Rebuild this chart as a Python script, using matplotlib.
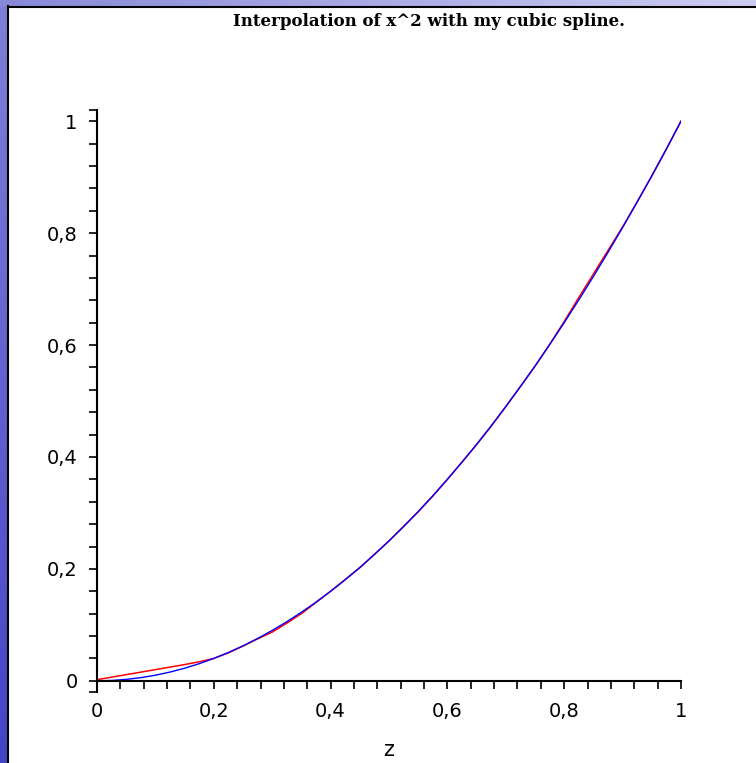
import matplotlib.pyplot as plt
import numpy as np
from matplotlib.lines import Line2D
from matplotlib.ticker import FixedLocator, FuncFormatter

fz = 14

# values
z_vals = [0.0, 0.025, 0.05, 0.075, 0.1, 0.125, 0.15, 0.175, 0.2, 0.225,
          0.25, 0.275, 0.3, 0.325, 0.35, 0.375, 0.4, 0.425, 0.45, 0.475,
          0.5, 0.525, 0.55, 0.575, 0.6, 0.625, 0.65, 0.675, 0.7, 0.725,
          0.75, 0.775, 0.8, 0.825, 0.85, 0.875, 0.9, 0.925, 0.95, 0.975, 1.0]
spline_vals = [0.002, 0.0065, 0.011, 0.0155, 0.020, 0.0245, 0.029, 0.034, 0.040, 0.050,
               0.062, 0.075, 0.087, 0.103, 0.120, 0.140, 0.160, 0.181, 0.202, 0.226,
               0.250, 0.276, 0.302, 0.330, 0.360, 0.391, 0.422, 0.455, 0.490, 0.526,
               0.562, 0.601, 0.642, 0.685, 0.727, 0.769, 0.811, 0.856, 0.902, 0.950, 1.0]
exact_vals = [0.0, 0.0006, 0.0025, 0.0056, 0.01, 0.0156, 0.0225, 0.0306, 0.04, 0.0506,
              0.0625, 0.0756, 0.09, 0.1056, 0.1225, 0.1406, 0.16, 0.1806, 0.2025, 0.2256,
              0.25, 0.2756, 0.3025, 0.3306, 0.36, 0.3906, 0.4225, 0.4556, 0.49, 0.5256,
              0.5625, 0.6006, 0.64, 0.6806, 0.7225, 0.7656, 0.81, 0.8556, 0.9025, 0.9506, 1.0]
major_ticks = [0, 0.2, 0.4, 0.6, 0.8, 1]


def comma_fmt(v, pos):
    s = ('%.1f' % v).rstrip('0').rstrip('.')
    return s.replace('.', ',')


fig = plt.figure(figsize=(7.56, 7.63), dpi=100)
fig.patch.set_facecolor('white')
W, H = 756.0, 763.0

# blue frame strips
left_ax = fig.add_axes([0, 0, 8 / W, 1])
grad = np.linspace(0, 1, 256).reshape(-1, 1)
top_c = np.array([0x80, 0x80, 0xd8]) / 255.0
bot_c = np.array([0x44, 0x44, 0xc8]) / 255.0
img = top_c + (bot_c - top_c) * grad[:, :, None]
left_ax.imshow(img, aspect='auto', extent=[0, 1, 0, 1])
left_ax.axis('off')

top_ax = fig.add_axes([0, 1 - 6 / H, 1, 6 / H])
gradh = np.linspace(0, 1, 256).reshape(1, -1)
l_c = np.array([0x88, 0x88, 0xd8]) / 255.0
r_c = np.array([0xcc, 0xcc, 0xf2]) / 255.0
imgh = l_c + (r_c - l_c) * gradh[:, :, None]
top_ax.imshow(imgh, aspect='auto', extent=[0, 1, 0, 1])
top_ax.axis('off')

fig.add_artist(Line2D([8 / W, 8 / W], [0, 1 - 6 / H], color='black', lw=1.5,
                      transform=fig.transFigure))
fig.add_artist(Line2D([8 / W, 1], [1 - 6.5 / H, 1 - 6.5 / H], color='black', lw=1.5,
                      transform=fig.transFigure))

# main plot
ax = fig.add_axes([97 / W, 71 / H, (681 - 97) / W, (653 - 71) / H])
ax.plot(z_vals, spline_vals, '-', color='#ff0000', linewidth=1.1)
ax.plot(z_vals, exact_vals, '-', color='#0000ff', linewidth=1.0)

ax.set_xlim(0, 1)
ax.set_ylim(-0.02, 1.02)
ax.spines['right'].set_visible(False)
ax.spines['top'].set_visible(False)
ax.spines['left'].set_position(('data', 0))
ax.spines['bottom'].set_position(('data', 0))
ax.spines['left'].set_linewidth(1.5)
ax.spines['bottom'].set_linewidth(1.5)

ax.xaxis.set_major_locator(FixedLocator(major_ticks))
ax.yaxis.set_major_locator(FixedLocator(major_ticks))
ax.xaxis.set_minor_locator(FixedLocator(np.arange(0, 1.001, 0.04)))
ax.yaxis.set_minor_locator(FixedLocator(list(np.arange(0, 1.001, 0.04)) + [-0.02, 1.02]))
ax.xaxis.set_major_formatter(FuncFormatter(comma_fmt))
ax.yaxis.set_major_formatter(FuncFormatter(comma_fmt))
ax.tick_params(which='both', direction='out', length=6, width=1.2, labelsize=fz)
ax.tick_params(axis='x', pad=9)
ax.tick_params(axis='y', pad=8)

ax.set_xlabel('z', fontsize=fz + 1, labelpad=14)

fig.text(429 / W, 1 - 22 / H, 'Interpolation of x^2 with my cubic spline.',
         ha='center', va='center', fontsize=12, fontweight='bold', family='DejaVu Serif')

plt.savefig('out.png', dpi=100)
plt.close()
